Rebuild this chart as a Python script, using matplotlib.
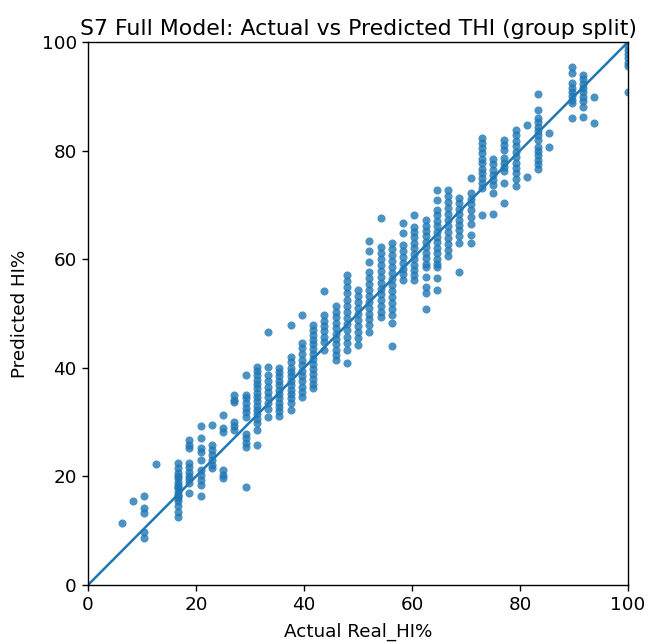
import matplotlib
matplotlib.use("Agg")
import matplotlib.pyplot as plt
import numpy as np

# discrete actual levels (k * 100/48)
level_index = [3, 4, 5, 6, 8, 9, 10, 11, 12, 13, 14, 15, 16, 17, 18, 19, 20, 21,
               22, 23, 24, 25, 26, 27, 28, 29, 30, 31, 32, 33, 34, 35, 36, 37, 38,
               39, 40, 41, 43, 44, 45, 48]

predicted_groups = [
    [11.4],
    [15.5],
    [16.3, 14.2, 13.3, 9.8, 8.7],
    [22.3],
    [22.4, 21.5, 20.6, 20.0, 19.7, 19.0, 18.4, 18.0, 17.8, 17.2, 16.6, 16.3, 16.0, 15.4, 14.5, 13.5, 12.6],
    [26.7, 25.8, 25.2, 22.5, 21.8, 20.9, 20.0, 19.5, 18.7, 16.9],
    [29.2, 27.0, 25.2, 24.5, 23.0, 21.2, 20.3, 19.3, 18.4, 16.3],
    [29.5, 25.8, 24.9, 23.9, 23.0, 22.1, 21.5],
    [31.3, 28.9, 28.2, 21.2, 20.3, 19.7],
    [35.0, 34.1, 33.7, 30.1, 29.2, 28.5],
    [38.7, 35.0, 34.4, 33.5, 32.6, 31.9, 31.0, 27.9, 27.0, 26.1, 25.5, 18.1],
    [40.2, 39.4, 38.6, 37.8, 37.0, 36.2, 35.4, 34.6, 33.8, 33.0, 32.2, 31.4, 30.6, 29.8, 28.5, 25.8],
    [46.6, 40.2, 38.7, 37.5, 36.5, 35.6, 34.7, 33.5, 32.5, 31.0],
    [40.0, 39.2, 38.4, 37.6, 36.8, 36.0, 35.2, 34.4, 33.6, 32.8, 32.0, 31.2],
    [47.9, 42.0, 41.0, 40.0, 39.2, 38.4, 37.6, 36.8, 36.0, 35.2, 34.4, 33.6, 32.2],
    [49.7, 44.6, 43.6, 42.5, 41.5, 40.5, 39.5, 38.5, 37.5, 36.5, 35.5, 34.7],
    [47.9, 47.0, 46.1, 45.2, 44.3, 43.4, 42.5, 41.6, 40.7, 39.8, 38.9, 38.0, 37.1, 36.3],
    [54.2, 49.7, 48.7, 47.7, 46.7, 45.7, 44.7, 43.3],
    [51.3, 50.3, 49.3, 48.3, 47.3, 46.3, 45.3, 44.3, 43.3, 42.3, 41.4],
    [57.1, 56.0, 54.8, 53.7, 52.5, 51.4, 50.3, 49.1, 48.0, 46.9, 45.7, 44.5, 43.3, 40.8],
    [54.3, 53.2, 52.1, 51.0, 49.9, 48.8, 47.7, 46.6, 45.5, 44.2],
    [63.4, 61.5, 59.5, 57.7, 56.6, 55.5, 54.4, 53.3, 52.2, 51.1, 50.0, 48.9, 47.8, 46.6],
    [67.5, 62.3, 61.2, 60.1, 59.0, 57.9, 56.8, 55.7, 54.6, 53.5, 52.4, 51.3, 50.2, 49.4],
    [62.9, 61.8, 60.7, 59.6, 58.5, 57.4, 56.3, 55.2, 54.1, 53.0, 51.9, 50.8, 49.7, 48.2, 44.1],
    [66.6, 64.8, 62.6, 61.5, 60.4, 59.3, 58.2, 57.2, 56.2],
    [68.1, 66.0, 65.0, 64.0, 63.0, 62.0, 61.0, 60.0, 59.0, 58.0, 57.0, 56.2],
    [67.2, 66.2, 65.2, 64.2, 63.2, 62.2, 61.2, 60.2, 59.2, 58.6, 56.8, 54.9, 53.7, 50.9],
    [72.7, 70.9, 69.1, 68.1, 67.1, 66.1, 65.1, 64.1, 63.1, 62.1, 61.1, 60.1, 59.2, 58.6, 56.5, 54.3],
    [72.7, 71.6, 70.5, 69.4, 68.3, 67.2, 66.1, 65.0, 63.9, 62.8, 61.7, 60.5],
    [71.3, 70.3, 69.3, 68.3, 67.3, 66.3, 65.3, 64.3, 63.0, 57.7],
    [74.9, 72.1, 71.1, 70.1, 69.0, 67.8, 66.5, 64.5, 62.9],
    [82.3, 81.4, 80.4, 79.5, 78.5, 77.7, 76.7, 75.8, 74.9, 74.0, 73.2, 68.1],
    [78.5, 77.5, 76.5, 75.5, 74.6, 73.7, 72.1, 68.4],
    [82.0, 81.0, 80.1, 78.6, 77.8, 77.0, 76.2, 74.0, 70.3],
    [83.8, 82.8, 81.8, 80.8, 79.8, 78.8, 77.8, 76.8, 75.8, 74.8, 73.4],
    [84.7, 75.2],
    [90.5, 87.5, 86.0, 85.2, 84.4, 83.6, 82.8, 82.0, 80.7, 79.9, 79.1, 78.3, 77.5, 76.7],
    [83.2, 80.7],
    [95.4, 94.2, 92.4, 91.6, 90.8, 90.0, 89.4, 88.7, 86.0],
    [93.9, 93.1, 92.3, 91.5, 90.7, 89.9, 89.1, 88.1, 86.2],
    [89.8, 85.0],
    [100.0, 99.2, 98.5, 97.7, 97.0, 96.2, 95.5, 90.7],
]

actual = []
predicted = []
for k, ys in zip(level_index, predicted_groups):
    for y in ys:
        actual.append(k * 100.0 / 48.0)
        predicted.append(y)

B = 13.2
fig = plt.figure(figsize=(6.48, 6.43), dpi=100)
ax = fig.add_axes([88 / 648, (643 - 585) / 643, 540 / 648, 543 / 643])
ax.scatter(actual, predicted, s=34, alpha=0.8, color="#1f77b4", linewidths=0)
ax.plot([0, 100], [0, 100], color="#1f77b4", linewidth=1.8)
ax.set_xlim(0, 100)
ax.set_ylim(0, 100)
ax.set_xlabel("Actual Real_HI%", fontsize=B, labelpad=6)
ax.set_ylabel("Predicted HI%", fontsize=B, labelpad=9)
ax.set_title("S7 Full Model: Actual vs Predicted THI (group split)", fontsize=15.8, pad=5)
ax.tick_params(labelsize=B, width=1.0, length=4.5)
for sp in ax.spines.values():
    sp.set_linewidth(1.0)
fig.savefig("out.png", dpi=100)
